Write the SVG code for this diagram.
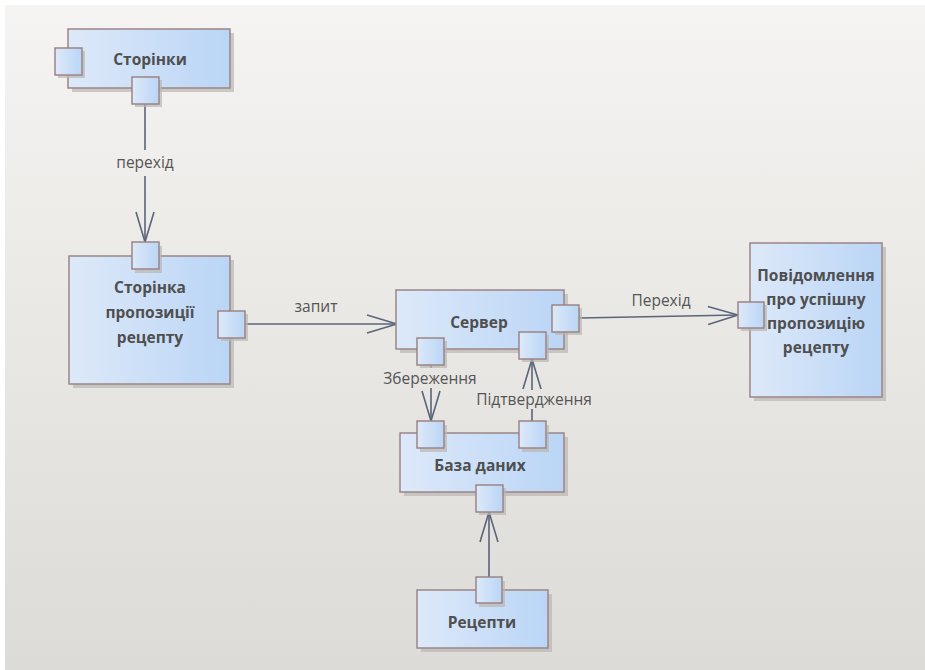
<svg xmlns="http://www.w3.org/2000/svg" width="925" height="670" viewBox="0 0 925 670">
  <defs>
    <linearGradient id="bg" x1="0" y1="0" x2="0" y2="1">
      <stop offset="0" stop-color="#f5f4f2"/>
      <stop offset="1" stop-color="#dddbd7"/>
    </linearGradient>
    <linearGradient id="fill" x1="0" y1="0" x2="1" y2="0">
      <stop offset="0" stop-color="#dde9f9"/>
      <stop offset="1" stop-color="#bad5f6"/>
    </linearGradient>
    <marker id="open" viewBox="0 0 32 22" refX="31" refY="11" markerWidth="32" markerHeight="22" markerUnits="userSpaceOnUse" orient="auto">
      <path d="M1,2 L31,11 L1,20" fill="none" stroke="#5b6579" stroke-width="1.6"/>
    </marker>
  </defs>
  <style>
    .box { fill: url(#fill); stroke: #9c8585; stroke-width: 1.5; }
    .shadow { fill: #b9b7b3; opacity: 0.7; }
    .title { font-family: "Open Sans", "Noto Sans", sans-serif; font-size: 15.5px; font-weight: bold; fill: #4f4f4f; text-anchor: middle; }
    .lbl { font-family: "Open Sans", "Noto Sans", sans-serif; font-size: 15.5px; fill: #555555; text-anchor: middle; }
    .wire { fill: none; stroke: #5b6579; stroke-width: 1.6; }
  </style>

  <rect x="0" y="0" width="925" height="670" fill="#ffffff"/>
  <rect x="5" y="5" width="920" height="665" fill="url(#bg)"/>

  <!-- connectors -->
  <g id="connectors">
    <path class="wire" d="M145,103 V150"/>
    <path class="wire" d="M145,176 V242" marker-end="url(#open)"/>
    <text class="lbl" x="145" y="168">перехід</text>

    <path class="wire" d="M245,324 H397" marker-end="url(#open)"/>
    <text class="lbl" x="316" y="312">запит</text>

    <path class="wire" d="M579,318 L738,315" marker-end="url(#open)"/>
    <text class="lbl" x="661" y="306">Перехід</text>

    <path class="wire" d="M431,364 V368"/>
    <path class="wire" d="M431,388 V421" marker-end="url(#open)"/>
    <text class="lbl" x="430" y="384">Збереження</text>

    <path class="wire" d="M532,421 V409"/>
    <path class="wire" d="M532,390 V359" marker-end="url(#open)"/>
    <text class="lbl" x="534" y="405">Підтвердження</text>

    <path class="wire" d="M489,577 V512" marker-end="url(#open)"/>
  </g>

  <!-- Сторінки -->
  <g id="storinky">
    <rect class="shadow" x="72" y="33" width="162" height="59"/>
    <rect class="box" x="68" y="29" width="162" height="59"/>
    <rect class="shadow" x="58" y="51" width="27" height="27"/>
    <rect class="box" x="55" y="48" width="27" height="27"/>
    <rect class="shadow" x="135" y="80" width="27" height="27"/>
    <rect class="box" x="132" y="77" width="27" height="27"/>
    <text class="title" x="150" y="65">Сторінки</text>
  </g>

  <!-- Сторінка пропозиції рецепту -->
  <g id="propose-page">
    <rect class="shadow" x="73" y="260" width="161" height="128"/>
    <rect class="box" x="69" y="256" width="161" height="128"/>
    <rect class="shadow" x="135" y="246" width="27" height="27"/>
    <rect class="box" x="132" y="242" width="27" height="27"/>
    <rect class="shadow" x="221" y="314" width="27" height="27"/>
    <rect class="box" x="218" y="311" width="27" height="27"/>
    <text class="title" x="150" y="293">Сторінка</text>
    <text class="title" x="150" y="318">пропозиції</text>
    <text class="title" x="150" y="343">рецепту</text>
  </g>

  <!-- Сервер -->
  <g id="server">
    <rect class="shadow" x="400" y="294" width="168" height="59"/>
    <rect class="box" x="396" y="290" width="168" height="59"/>
    <rect class="shadow" x="555" y="308" width="27" height="27"/>
    <rect class="box" x="552" y="305" width="27" height="27"/>
    <rect class="shadow" x="420" y="341" width="27" height="27"/>
    <rect class="box" x="417" y="338" width="27" height="27"/>
    <rect class="shadow" x="522" y="335" width="27" height="27"/>
    <rect class="box" x="519" y="332" width="27" height="27"/>
    <text class="title" x="479" y="328">Сервер</text>
  </g>

  <!-- Повідомлення про успішну пропозицію рецепту -->
  <g id="success-message">
    <rect class="shadow" x="754" y="247" width="132" height="154"/>
    <rect class="box" x="750" y="243" width="132" height="154"/>
    <rect class="shadow" x="741" y="305" width="26" height="26"/>
    <rect class="box" x="738" y="302" width="26" height="26"/>
    <text class="title" x="816" y="281">Повідомлення</text>
    <text class="title" x="816" y="305">про успішну</text>
    <text class="title" x="816" y="329">пропозицію</text>
    <text class="title" x="816" y="353">рецепту</text>
  </g>

  <!-- База даних -->
  <g id="database">
    <rect class="shadow" x="404" y="437" width="164" height="59"/>
    <rect class="box" x="400" y="433" width="164" height="59"/>
    <rect class="shadow" x="420" y="425" width="27" height="27"/>
    <rect class="box" x="417" y="421" width="27" height="27"/>
    <rect class="shadow" x="522" y="425" width="27" height="27"/>
    <rect class="box" x="519" y="421" width="27" height="27"/>
    <rect class="shadow" x="479" y="488" width="27" height="27"/>
    <rect class="box" x="476" y="485" width="27" height="27"/>
    <text class="title" x="480" y="471">База даних</text>
  </g>

  <!-- Рецепти -->
  <g id="recipes">
    <rect class="shadow" x="421" y="594" width="131" height="58"/>
    <rect class="box" x="417" y="590" width="131" height="58"/>
    <rect class="shadow" x="479" y="581" width="26" height="26"/>
    <rect class="box" x="476" y="577" width="26" height="26"/>
    <text class="title" x="482" y="628">Рецепти</text>
  </g>
</svg>
